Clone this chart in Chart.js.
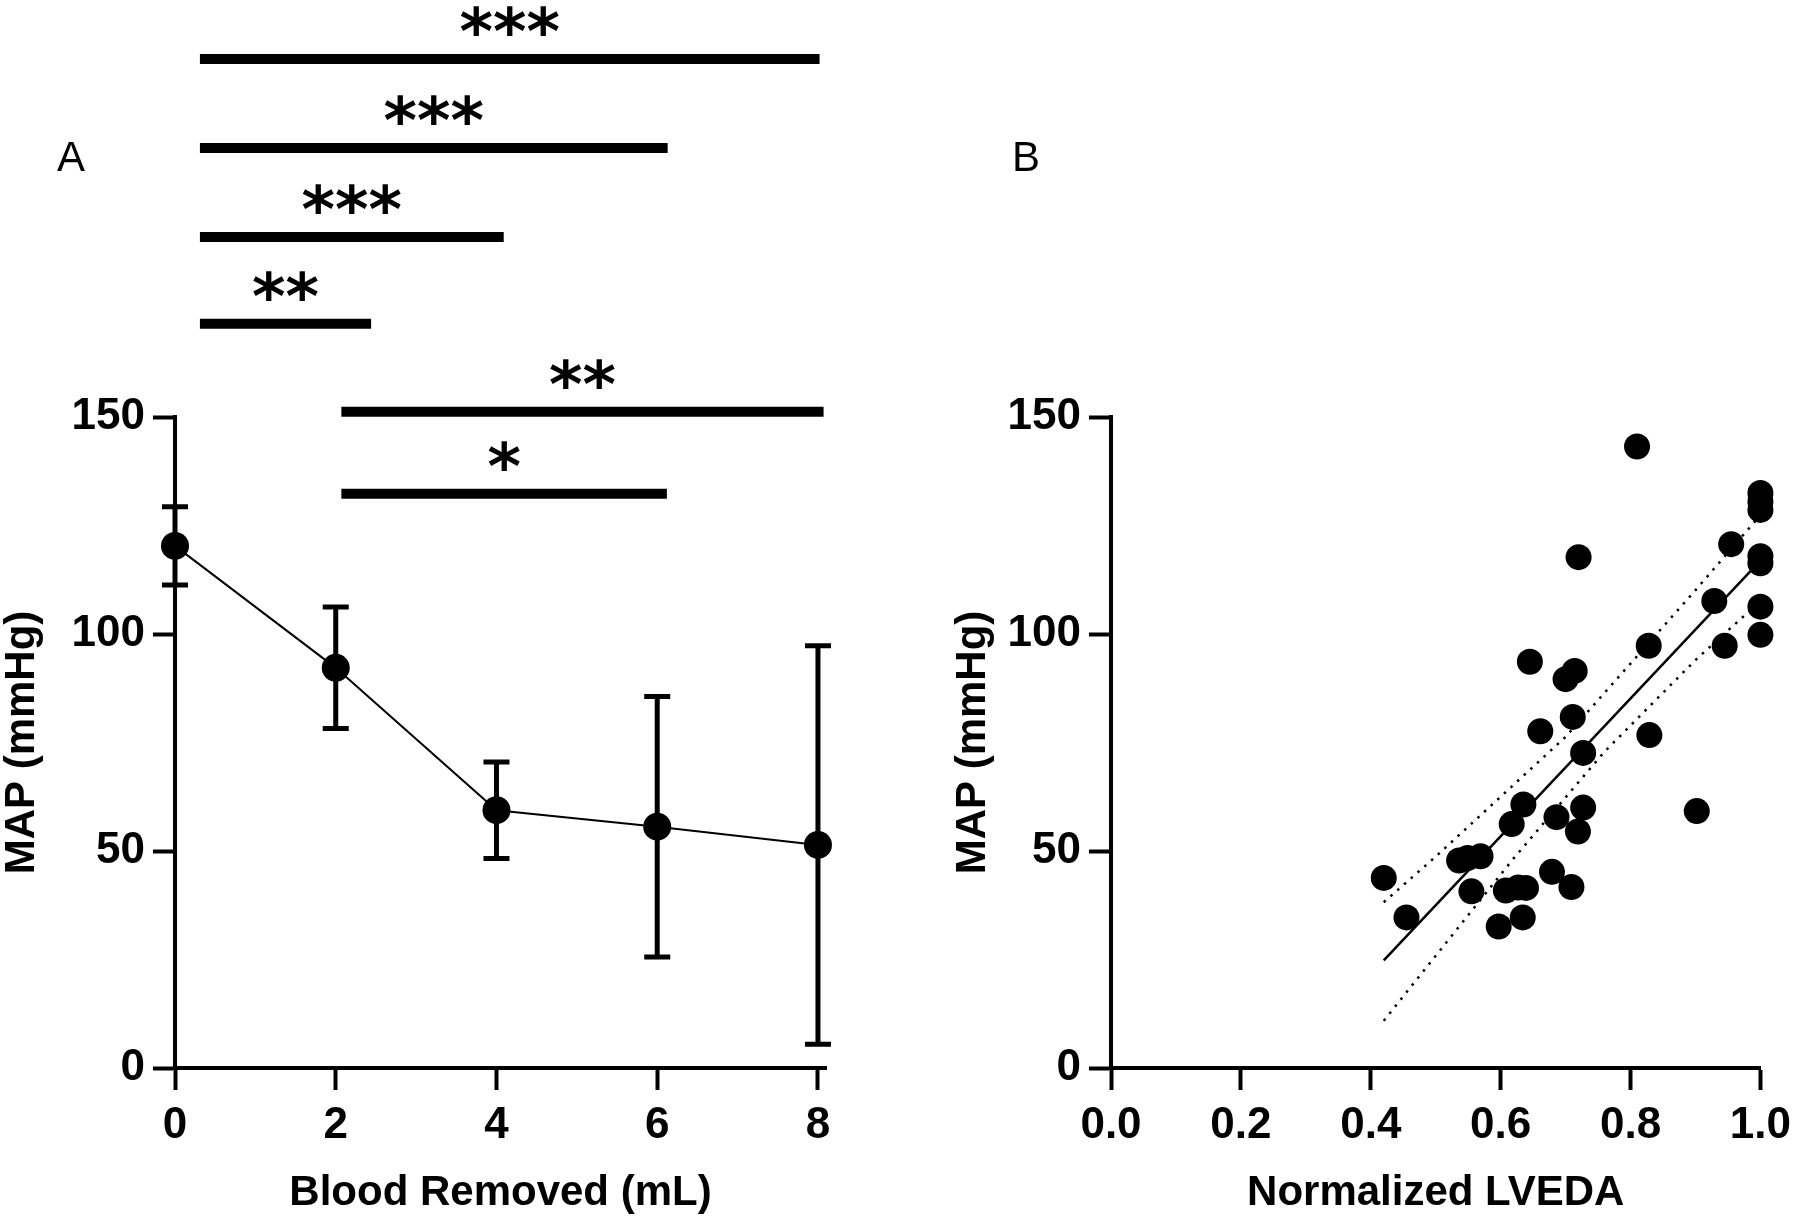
<!DOCTYPE html>
<html>
<head>
<meta charset="utf-8">
<script src="https://cdn.jsdelivr.net/npm/chart.js@4.4.1/dist/chart.umd.min.js"></script>
<style>
  html, body { margin: 0; padding: 0; background: #fff; }
  #wrap { position: relative; width: 1800px; height: 1224px; }
  .panel { position: absolute; top: 0; width: 900px; height: 1224px; }
  .tag { position: absolute; font-family: "Liberation Sans", Arial, sans-serif; font-size: 42px; line-height: 1; color: #000; }
</style>
</head>
<body>
<div id="wrap">
  <div class="panel" style="left:0"><canvas id="chartA"></canvas></div>
  <div class="panel" style="left:900px"><canvas id="chartB"></canvas></div>
  <div class="tag" style="left:57px;top:136px">A</div>
  <div class="tag" style="left:1012px;top:136px">B</div>
</div>
<script>
// panel A: MAP vs blood removed (mean +/- SD)
var doseMl = [0, 2, 4, 6, 8];
var mapMean = [120.3, 92.2, 59.4, 55.6, 51.4];
var mapSd = [9.0, 14.0, 11.1, 30.0, 45.9];

// significance brackets (x from, x to, height in mmHg)
var sigFrom = [0.31, 0.31, 0.31, 0.31, 2.07, 2.07];
var sigTo = [8.02, 6.13, 4.09, 2.44, 8.07, 6.12];
var sigLevel = [232.5, 212, 191.5, 171.5, 151.2, 132.3];
var sigStars = ['***', '***', '***', '**', '**', '*'];

// panel B: MAP vs normalized LVEDA
var lvedaNorm = [0.420, 0.455, 0.536, 0.549, 0.569, 0.555, 0.597, 0.608, 0.627, 0.639,
                 0.634, 0.617, 0.635, 0.679, 0.686, 0.709, 0.719, 0.727, 0.727, 0.661,
                 0.711, 0.645, 0.700, 0.714, 0.720, 0.810, 0.828, 0.829, 0.902, 0.929,
                 0.945, 0.955, 1.0, 1.0, 1.0, 1.0, 1.0, 1.0, 1.0];
var mapB = [43.8, 34.7, 47.8, 48.4, 48.8, 40.7, 32.6, 40.9, 41.6, 41.5,
            34.7, 56.2, 60.7, 45.2, 57.8, 41.7, 54.5, 60.0, 72.6, 77.6,
            80.9, 93.6, 89.6, 91.5, 117.7, 143.2, 97.3, 76.7, 59.2, 107.6,
            97.3, 120.7, 132.5, 130.5, 128.6, 117.9, 116.3, 106.3, 99.8];

var fitX = [0.42, 1.0];
var fitY = [24.8, 116.9];
var bandUpperX = [0.42, 0.50, 0.70, 0.90, 1.0];
var bandUpperY = [38.2, 48.7, 76.3, 110.1, 127.4];
var bandLowerX = [0.42, 0.62, 0.76, 0.90, 1.0];
var bandLowerY = [10.9, 48.3, 72.9, 94.0, 107.6];

var FONT = '"Liberation Sans", Arial, sans-serif';

// tick numbers in the figure are a condensed bold face; use the narrow one if installed
function hasFont(name) {
  var c = document.createElement('canvas').getContext('2d');
  c.font = 'bold 48px monospace';
  var w0 = c.measureText('0123456789').width;
  c.font = 'bold 48px "' + name + '", monospace';
  return c.measureText('0123456789').width !== w0;
}
var narrow = hasFont('Liberation Sans Narrow');
var tickSize = narrow ? 48 : 44;
var tickFam = narrow ? '"Liberation Sans Narrow", ' + FONT : FONT;
var xTickPad = narrow ? 7 : 9;

function pts(xs, ys) {
  return xs.map(function (v, i) { return { x: v, y: ys[i] }; });
}

function axis(opts) {
  return Object.assign({
    type: 'linear',
    border: { display: true, color: '#000', width: 4 },
    grid: { display: true, drawOnChartArea: false, drawTicks: true, tickLength: 22,
            tickWidth: 4, color: '#000', tickColor: '#000' },
  }, opts);
}

function tickFont() { return { family: tickFam, size: tickSize, weight: 'bold' }; }
function titleFont(lh) { return { family: FONT, size: 42, weight: 'bold', lineHeight: lh }; }

var panelAExtras = {
  id: 'panelAExtras',
  afterDatasetsDraw: function (chart) {
    var ctx = chart.ctx, x = chart.scales.x, y = chart.scales.y;
    ctx.save();
    ctx.strokeStyle = '#000';
    ctx.fillStyle = '#000';
    ctx.lineWidth = 5;
    doseMl.forEach(function (d, i) {
      var px = x.getPixelForValue(d);
      var top = y.getPixelForValue(mapMean[i] + mapSd[i]);
      var bot = y.getPixelForValue(mapMean[i] - mapSd[i]);
      ctx.beginPath();
      ctx.moveTo(px, top); ctx.lineTo(px, bot);
      ctx.moveTo(px - 13, top); ctx.lineTo(px + 13, top);
      ctx.moveTo(px - 13, bot); ctx.lineTo(px + 13, bot);
      ctx.stroke();
    });
    ctx.lineWidth = 10;
    ctx.font = 'bold 64px "DejaVu Sans"';
    ctx.textAlign = 'center';
    ctx.textBaseline = 'alphabetic';
    sigLevel.forEach(function (lv, i) {
      var x0 = x.getPixelForValue(sigFrom[i]), x1 = x.getPixelForValue(sigTo[i]);
      var py = y.getPixelForValue(lv);
      ctx.beginPath();
      ctx.moveTo(x0, py); ctx.lineTo(x1, py);
      ctx.stroke();
      ctx.fillText(sigStars[i], (x0 + x1) / 2, py - 5);
    });
    ctx.restore();
  }
};

new Chart(document.getElementById('chartA'), {
  type: 'scatter',
  data: {
    datasets: [{
      data: pts(doseMl, mapMean),
      showLine: true,
      borderColor: '#000',
      borderWidth: 2,
      pointRadius: 14,
      pointBackgroundColor: '#000',
      pointBorderWidth: 0,
      clip: false
    }]
  },
  options: {
    responsive: true,
    maintainAspectRatio: false,
    animation: false,
    layout: { padding: { top: 417, right: 74, bottom: 0, left: 0 } },
    plugins: { legend: { display: false }, tooltip: { enabled: false } },
    scales: {
      x: axis({
        min: 0, max: 8.1,
        afterFit: function (s) { s.height = 156; },
        ticks: { stepSize: 2, includeBounds: false, padding: xTickPad, color: '#000', font: tickFont() },
        title: { display: true, text: 'Blood Removed (mL)', color: '#000', font: titleFont(1.2),
                 padding: { top: 0, bottom: 5 } }
      }),
      y: axis({
        min: 0, max: 150,
        afterFit: function (s) { s.width = 175; },
        ticks: { stepSize: 50, padding: 8, color: '#000', font: tickFont() },
        title: { display: true, text: 'MAP (mmHg)', color: '#000', font: titleFont(1.05),
                 padding: { top: 0, bottom: 0 } }
      })
    }
  },
  plugins: [panelAExtras]
});

new Chart(document.getElementById('chartB'), {
  type: 'scatter',
  data: {
    datasets: [
      {
        data: pts(fitX, fitY), showLine: true, borderColor: '#000', borderWidth: 2.5,
        pointRadius: 0, clip: false
      },
      {
        data: pts(bandUpperX, bandUpperY), showLine: true, borderColor: '#000', borderWidth: 2.5,
        borderDash: [2.5, 6.5], pointRadius: 0, clip: false
      },
      {
        data: pts(bandLowerX, bandLowerY), showLine: true, borderColor: '#000', borderWidth: 2.5,
        borderDash: [2.5, 6.5], pointRadius: 0, clip: false
      },
      {
        data: pts(lvedaNorm, mapB), pointRadius: 13, pointBackgroundColor: '#000',
        pointBorderWidth: 0, clip: false
      }
    ]
  },
  options: {
    responsive: true,
    maintainAspectRatio: false,
    animation: false,
    layout: { padding: { top: 417, right: 36, bottom: 0, left: 0 } },
    plugins: { legend: { display: false }, tooltip: { enabled: false } },
    scales: {
      x: axis({
        min: 0, max: 1,
        afterFit: function (s) { s.height = 156; },
        ticks: { stepSize: 0.2, padding: xTickPad, color: '#000', font: tickFont(),
                 callback: function (v) { return Number(v).toFixed(1); } },
        title: { display: true, text: 'Normalized LVEDA', color: '#000', font: titleFont(1.2),
                 padding: { top: 0, bottom: 5 } }
      }),
      y: axis({
        min: 0, max: 150,
        afterFit: function (s) { s.width = 211; },
        ticks: { stepSize: 50, padding: 8, color: '#000', font: tickFont() },
        title: { display: true, text: 'MAP (mmHg)', color: '#000', font: titleFont(1.05),
                 padding: { top: 51, bottom: 0 } }
      })
    }
  }
});
</script>
</body>
</html>
